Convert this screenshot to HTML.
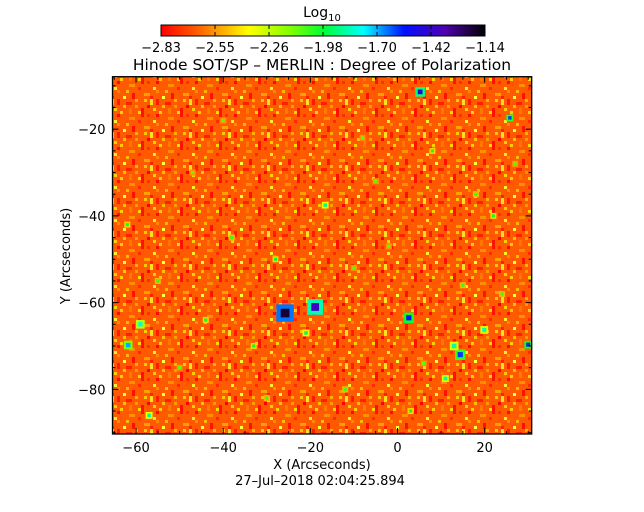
<!DOCTYPE html>
<html><head><meta charset="utf-8"><style>
body{margin:0;background:#fff}
svg{display:block;font-family:"DejaVu Sans","Liberation Sans",sans-serif}
</style></head><body>
<svg id="c" width="644" height="512">
<defs>
<linearGradient id="cb" x1="0" x2="1" y1="0" y2="0">
<stop offset="0" stop-color="#ff0000"/><stop offset="0.125" stop-color="#ff6a00"/>
<stop offset="0.27" stop-color="#ffff00"/><stop offset="0.4" stop-color="#80ff00"/>
<stop offset="0.5" stop-color="#00ff30"/><stop offset="0.625" stop-color="#00ffff"/>
<stop offset="0.75" stop-color="#0010ff"/><stop offset="0.875" stop-color="#5000b0"/>
<stop offset="1" stop-color="#000000"/></linearGradient>
<pattern id="tex" width="39" height="33" patternUnits="userSpaceOnUse">
<rect width="39" height="33" fill="#ff5a00"/>
<rect x="0" y="0" width="3" height="6" fill="#ff1a00"/><rect x="9" y="3" width="6" height="3" fill="#ff2000"/>
<rect x="18" y="0" width="3" height="3" fill="#ffb000"/><rect x="3" y="12" width="3" height="3" fill="#ffd000"/>
<rect x="24" y="9" width="3" height="9" fill="#ff1000"/><rect x="12" y="18" width="6" height="3" fill="#ff9000"/>
<rect x="0" y="24" width="3" height="3" fill="#ff8a00"/><rect x="30" y="15" width="3" height="3" fill="#ff3000"/>
<rect x="33" y="0" width="3" height="6" fill="#ffe020"/><rect x="6" y="6" width="3" height="3" fill="#ffc000"/>
<rect x="15" y="27" width="3" height="6" fill="#ff1000"/><rect x="27" y="27" width="6" height="3" fill="#ffa000"/>
<rect x="36" y="21" width="3" height="3" fill="#ffee30"/><rect x="21" y="21" width="3" height="3" fill="#ff2a00"/>
<rect x="6" y="30" width="3" height="3" fill="#ffff40"/><rect x="30" y="6" width="3" height="3" fill="#ff0000"/>
<rect x="12" y="9" width="3" height="6" fill="#ff7800"/><rect x="0" y="15" width="3" height="3" fill="#ff0a00"/>
<rect x="33" y="30" width="3" height="3" fill="#ff2000"/><rect x="21" y="12" width="3" height="3" fill="#ffd800"/>
<rect x="27" y="0" width="3" height="3" fill="#ffc800"/><rect x="9" y="24" width="3" height="3" fill="#ffb800"/>
<rect x="36" y="9" width="3" height="3" fill="#ffd000"/><rect x="18" y="6" width="3" height="3" fill="#ff9a00"/>
</pattern>
</defs>
<g id="plot"></g>
<text x="322" y="17" text-anchor="middle" font-size="14">Log<tspan font-size="10" dy="4">10</tspan></text>
<rect x="161" y="25" width="324" height="11" fill="url(#cb)" stroke="#000"/>
<g id="cbt"></g>
<text x="322" y="70" text-anchor="middle" font-size="15.5">Hinode SOT/SP – MERLIN : Degree of Polarization</text>
<text x="322" y="469" text-anchor="middle" font-size="13">X (Arcseconds)</text>
<text x="320" y="485" text-anchor="middle" font-size="13">27–Jul–2018 02:04:25.894</text>
<text transform="translate(70,256) rotate(-90)" text-anchor="middle" font-size="13">Y (Arcseconds)</text>
</svg>
<script>
const cbLabels=["-2.83","-2.55","-2.26","-1.98","-1.70","-1.42","-1.14"];
const xTicks=[-60,-40,-20,0,20];
const yTicks=[-20,-40,-60,-80];
const featX=[-25.8,-18.9,5.2,2.6,-59,-61.8,14.4,13,19.9,30,25.8,-16.6,-21,11,-57,-47,-38,-10,8,22,-50,-30,-5,15,-62,-40,-12,3,27,-55,-33,-2,18,-44,-8,24,-28,6];
const featY=[-62.4,-61,-11.4,-63.5,-65,-69.8,-72,-70,-66.3,-69.7,-17.4,-37.5,-67,-77.5,-86,-30,-45,-52,-25,-40,-75,-82,-32,-56,-42,-18,-80,-85,-28,-55,-70,-47,-35,-64,-22,-58,-50,-74];
const featV=[-1.2,-1.4,-1.45,-1.55,-1.8,-1.7,-1.6,-1.85,-1.85,-1.55,-1.6,-1.9,-1.95,-1.85,-1.9,-2.1,-2.05,-2.1,-2.0,-2.0,-2.1,-2.05,-2.1,-2.05,-2.0,-2.1,-2.05,-2.0,-2.1,-2.05,-2.0,-2.1,-2.05,-2.0,-2.1,-2.05,-2.0,-2.1];
const featR=[2,1.8,1.1,1.2,1,1,1.2,1,0.9,0.9,0.8,0.8,0.8,0.8,0.8,0.7,0.7,0.7,0.7,0.7,0.7,0.7,0.7,0.7,0.7,0.7,0.7,0.7,0.7,0.7,0.7,0.7,0.7,0.7,0.7,0.7,0.7,0.7];
const vmin=-2.83,vmax=-1.14;
const X0=112.5,X1=531.7,XD0=-65.4,XD1=30.8,Y0=76.7,Y1=434,YD0=-7.9,YD1=-90.3;
const sx=v=>X0+(v-XD0)/(XD1-XD0)*(X1-X0);
const sy=v=>Y0+(v-YD0)/(YD1-YD0)*(Y1-Y0);
const stops=[[0,[255,0,0]],[0.125,[255,106,0]],[0.27,[255,255,0]],[0.4,[128,255,0]],[0.5,[0,255,48]],[0.625,[0,255,255]],[0.75,[0,16,255]],[0.875,[80,0,176]],[1,[0,0,0]]];
function cmap(v){let t=Math.max(0,Math.min(1,(v-vmin)/(vmax-vmin)));for(let i=1;i<stops.length;i++){if(t<=stops[i][0]){const a=stops[i-1],b=stops[i],f=(t-a[0])/(b[0]-a[0]);return 'rgb('+a[1].map((c,k)=>Math.round(c+(b[1][k]-c)*f)).join(',')+')';}}return '#000';}
const NS='http://www.w3.org/2000/svg';
function mk(p,t,a){const e=document.createElementNS(NS,t);for(const k in a)e.setAttribute(k,a[k]);p.appendChild(e);return e;}
const g=document.getElementById('plot');
const bg=mk(g,'rect',{x:X0,y:Y0,width:X1-X0,height:Y1-Y0,fill:'url(#tex)'});


function box(x,y,r,fill){return mk(g,'rect',{x:sx(x-r),y:sy(y+r),width:sx(x+r)-sx(x-r),height:sy(y-r)-sy(y+r),fill:fill});}
for(let i=0;i<featX.length;i++){
 const h=box(featX[i],featY[i],featR[i],cmap(featV[i]-0.45));
 
 
}
for(let i=0;i<featX.length;i++){
 const h=box(featX[i],featY[i],featR[i]*0.5,cmap(featV[i]));
 
 
}
const fr=mk(g,'rect',{x:X0,y:Y0,width:X1-X0,height:Y1-Y0,fill:'none',stroke:'#000','stroke-width':1.3});


for(let v=-65;v<=30;v+=5){const x=sx(v),L=v%20===0?6:3;
 mk(g,'line',{x1:x,x2:x,y1:Y1,y2:Y1-L,stroke:'#000'});mk(g,'line',{x1:x,x2:x,y1:Y0,y2:Y0+L,stroke:'#000'});}
for(let v=-10;v>=-90;v-=5){const y=sy(v),L=v%20===0?6:3;
 mk(g,'line',{x1:X0,x2:X0+L,y1:y,y2:y,stroke:'#000'});mk(g,'line',{x1:X1,x2:X1-L,y1:y,y2:y,stroke:'#000'});}
xTicks.forEach(v=>{const t=mk(g,'text',{x:sx(v),y:452,'text-anchor':'middle','font-size':13});t.textContent=String(v).replace('-','−');
 
 });
yTicks.forEach(v=>{const t=mk(g,'text',{x:X0-7,y:sy(v)+5,'text-anchor':'end','font-size':13});t.textContent=String(v).replace('-','−');
 
 });
const cg=document.getElementById('cbt');
cbLabels.forEach((s,i)=>{const x=161+i*54;
 if(i>0&&i<cbLabels.length-1){mk(cg,'line',{x1:x,x2:x,y1:25,y2:29,stroke:'#000'});mk(cg,'line',{x1:x,x2:x,y1:36,y2:32,stroke:'#000'});}
 const t=mk(cg,'text',{x:x,y:52,'text-anchor':'middle','font-size':13});t.textContent=s.replace('-','−');
 
 });
</script>
</body></html>
